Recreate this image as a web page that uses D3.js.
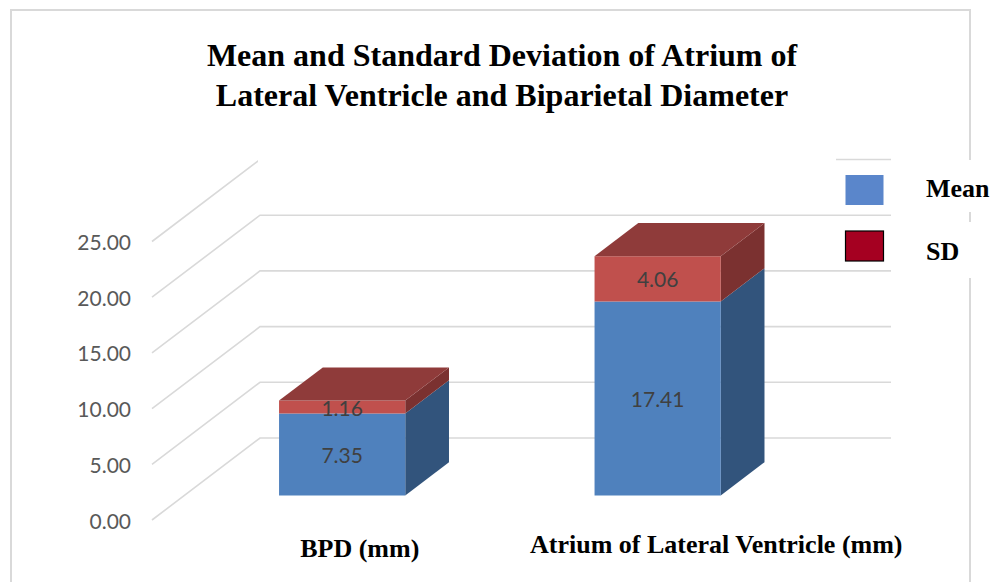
<!DOCTYPE html>
<html>
<head>
<meta charset="utf-8">
<script src="https://cdn.jsdelivr.net/npm/d3@7"></script>
<style>
  html, body { margin: 0; padding: 0; background: #ffffff; }
  svg { display: block; }
</style>
</head>
<body>
<svg id="chart" width="998" height="582"></svg>
<script>
// Chart data
const categories = ["BPD (mm)", "Atrium of Lateral Ventricle (mm)"];
const seriesNames = ["Mean", "SD"];
const meanValues = [7.35, 17.41];
const sdValues = [1.16, 4.06];
const yTicks = [0, 5, 10, 15, 20, 25];
const titleLines = [
  "Mean and Standard Deviation of Atrium of",
  "Lateral Ventricle and Biparietal Diameter"
];

const W = 998, H = 582;
const svg = d3.select("#chart");
svg.append("rect").attr("width", W).attr("height", H).attr("fill", "#ffffff");

// Outer chart frame
svg.append("path")
  .attr("d", "M11,582 L11,10 L970,10 L970,582")
  .attr("fill", "none").attr("stroke", "#d9d9d9").attr("stroke-width", 2);

// 3D projection: depth z in [0,1] shifts points up and to the right
const depthDX = 108, depthDY = 82;
const x = d3.scaleBand().domain(categories).range([152, 783])
  .paddingInner(0.6).paddingOuter(0.3);
const y = d3.scaleLinear().domain([0, 25]).range([520, 241.5]);
const P = (px, v, z) => [px + z * depthDX, y(v) - z * depthDY];
const poly = pts => "M" + pts.map(p => p.join(",")).join("L") + "Z";

// Gridlines: side wall diagonal + back wall horizontal
const grid = svg.append("g").attr("stroke", "#d9d9d9").attr("stroke-width", 1.6).attr("fill", "none");
const xL = x.range()[0], xR = x.range()[1];
yTicks.forEach(t => {
  const a = P(xL, t, 0), b = P(xL, t, 1), c = P(xR, t, 1);
  grid.append("path").attr("d", `M${a}L${b}L${c}`);
});

// Axis tick labels
const fmt = d3.format(".2f");
svg.append("g").selectAll("text").data(yTicks).join("text")
  .attr("x", 131).attr("y", d => y(d))
  .attr("text-anchor", "end").attr("dominant-baseline", "central")
  .attr("font-family", "Lato, 'Open Sans', sans-serif").attr("font-size", 21)
  .attr("fill", "#595959")
  .text(d => fmt(d));

// Stacked series
const rows = categories.map((c, i) => ({ cat: c, Mean: meanValues[i], SD: sdValues[i] }));
const stacked = d3.stack().keys(seriesNames)(rows);
const colors = {
  Mean: { front: "#4f81bd", side: "#32547c", top: "#3d6596" },
  SD:   { front: "#c0504d", side: "#7b3130", top: "#8f3b3a" }
};
const zF = 0.3, zB = 0.705;
const bars = svg.append("g");
rows.forEach((row, i) => {
  const x0 = x(row.cat), x1 = x0 + x.bandwidth();
  stacked.forEach((layer, li) => {
    const [v0, v1] = layer[i];
    const col = colors[layer.key];
    // right side face
    bars.append("path").attr("fill", col.side)
      .attr("d", poly([P(x1, v0, zF), P(x1, v1, zF), P(x1, v1, zB), P(x1, v0, zB)]));
    // front face
    bars.append("path").attr("fill", col.front)
      .attr("d", poly([P(x0, v0, zF), P(x1, v0, zF), P(x1, v1, zF), P(x0, v1, zF)]));
    // top face on the uppermost segment
    if (li === stacked.length - 1) {
      bars.append("path").attr("fill", col.top)
        .attr("d", poly([P(x0, v1, zF), P(x1, v1, zF), P(x1, v1, zB), P(x0, v1, zB)]));
    }
  });
});

// Value labels centred on each front face
stacked.forEach(layer => {
  layer.forEach((seg, i) => {
    const cx = x(categories[i]) + x.bandwidth() / 2 + zF * depthDX;
    const cy = (y(seg[0]) + y(seg[1])) / 2 - zF * depthDY;
    svg.append("text")
      .attr("x", cx).attr("y", cy)
      .attr("text-anchor", "middle").attr("dominant-baseline", "central")
      .attr("font-family", "Lato, 'Open Sans', sans-serif").attr("font-size", 21)
      .attr("fill", "#404040")
      .text(seg.data[layer.key].toFixed(2));
  });
});

// Category labels
const labelNudge = [50, 91];
const labelBase = [557, 553];
svg.append("g").selectAll("text").data(categories).join("text")
  .attr("x", (d, i) => x(d) + x.bandwidth() / 2 + labelNudge[i])
  .attr("y", (d, i) => labelBase[i])
  .attr("text-anchor", "middle")
  .attr("font-family", "'Liberation Serif', 'Times New Roman', serif")
  .attr("font-weight", "bold").attr("font-size", 26).attr("fill", "#000")
  .text(d => d);

// Title block (white box behind the title)
svg.append("rect").attr("x", 258).attr("y", 20).attr("width", 578).attr("height", 143).attr("fill", "#ffffff");
svg.append("g").selectAll("text").data(titleLines).join("text")
  .attr("x", 502).attr("y", (d, i) => 66 + i * 40)
  .attr("text-anchor", "middle")
  .attr("font-family", "'Liberation Serif', 'Times New Roman', serif")
  .attr("font-weight", "bold").attr("font-size", 32).attr("fill", "#000")
  .text(d => d);

// Legend
const legend = svg.append("g");
const legendRows = [
  { name: seriesNames[0], fill: "#5a86cb", stroke: "none", sy: 175, ty: 197, box: [160, 52] },
  { name: seriesNames[1], fill: "#a50021", stroke: "#000", sy: 231, ty: 260, box: [222, 56] }
];
legendRows.forEach(r => {
  legend.append("rect").attr("x", 900).attr("y", r.box[0]).attr("width", 98).attr("height", r.box[1]).attr("fill", "#ffffff");
  legend.append("rect").attr("x", 845.5).attr("y", r.sy).attr("width", 38).attr("height", 30)
    .attr("fill", r.fill).attr("stroke", r.stroke).attr("stroke-width", r.stroke === "none" ? 0 : 1.2);
  legend.append("text").attr("x", 926).attr("y", r.ty)
    .attr("font-family", "'Liberation Serif', 'Times New Roman', serif")
    .attr("font-weight", "bold").attr("font-size", 26).attr("fill", "#000")
    .text(r.name);
});
</script>
</body>
</html>
